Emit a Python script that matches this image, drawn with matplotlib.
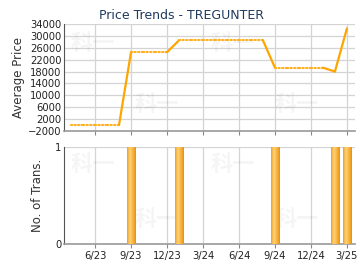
import numpy as np
import matplotlib
matplotlib.use('Agg')
from matplotlib import pyplot as plt
from matplotlib.colors import LinearSegmentedColormap

# months counted from Jan 2023 (0 = 1/23)
months = list(range(3, 27))
prices = [0, 0, 0, 0, 0,
          24500, 24500, 24500, 24500,
          28500, 28500, 28500, 28500, 28500, 28500, 28500, 28500,
          19300, 19300, 19300, 19300, 19300,
          18000, 32500]
trans_months = [8, 12, 20, 25, 26]
trans_counts = [1, 1, 1, 1, 1]

tick_pos = [5, 8, 11, 14, 17, 20, 23, 26]
tick_labels = ['6/23', '9/23', '12/23', '3/24', '6/24', '9/24', '12/24', '3/25']
price_ticks = list(range(-2000, 34001, 4000))

plt.rcParams['font.family'] = ['DejaVu Sans']
fig = plt.figure(figsize=(3.6, 2.7), dpi=100)
ax1 = fig.add_axes([0.178, 0.515, 0.808, 0.396])
ax2 = fig.add_axes([0.178, 0.096, 0.808, 0.360])

xlim = (2.42, 26.67)

# price line: solid into a month with a transaction, dotted otherwise
for i in range(len(months) - 1):
    x = [months[i], months[i + 1]]
    y = [prices[i], prices[i + 1]]
    if months[i + 1] in trans_months:
        ax1.plot(x, y, color='#FFA500', lw=1.6, solid_capstyle='round', zorder=3)
    else:
        ax1.plot(x, y, color='#FFB020', lw=1.5, ls=(0, (0.6, 1.1)),
                 dash_capstyle='round', zorder=3)

ax1.set_xlim(*xlim)
ax1.set_ylim(-2000, 34000)
ax1.set_yticks(price_ticks)
ax1.set_xticks(tick_pos)
ax1.set_xticklabels([])
ax1.set_ylabel('Average Price', fontsize=8.5, color='#333333', labelpad=2)
fig.suptitle('Price Trends - TREGUNTER', fontsize=9, color='#1F3A5F',
             x=0.503, y=0.968, va='top')

# bars with a horizontal gradient
cmap = LinearSegmentedColormap.from_list(
    'bar', ['#F0A020', '#FFD27A', '#F8B540', '#E8920A'])
bw = 0.7
for m, c in zip(trans_months, trans_counts):
    grad = np.linspace(0, 1, 32).reshape(1, -1)
    ax2.imshow(grad, extent=(m - bw / 2, m + bw / 2, 0, c), aspect='auto',
               cmap=cmap, zorder=3, interpolation='bilinear')

ax2.set_xlim(*xlim)
ax2.set_ylim(0, 1)
ax2.set_yticks([0, 1])
ax2.set_xticks(tick_pos)
ax2.set_xticklabels(tick_labels)
ax2.set_ylabel('No. of Trans.', fontsize=8.5, color='#333333', labelpad=8)

for ax in (ax1, ax2):
    ax.grid(True, color='#D4D4D4', lw=0.9, zorder=0)
    ax.set_axisbelow(True)
    ax.tick_params(labelsize=7.2, colors='#222222', length=0, pad=2)
    ax.tick_params(axis='x', length=3, color='#888888')
    for s in ('top', 'right'):
        ax.spines[s].set_visible(False)
    ax.spines['left'].set_color('#555555')
    ax.spines['bottom'].set_color('#999999')
    ax.spines['bottom'].set_linewidth(1.2)
    # faint watermark
    for wx, wy in ((0.10, 0.82), (0.58, 0.82), (0.32, 0.25), (0.80, 0.25)):
        ax.text(wx, wy, '科一', transform=ax.transAxes, fontsize=16,
                family=['Noto Sans CJK SC'], fontweight='bold',
                color='#000000', alpha=0.04, ha='center', va='center', zorder=1)

fig.savefig('out.png', dpi=100, facecolor='white')
